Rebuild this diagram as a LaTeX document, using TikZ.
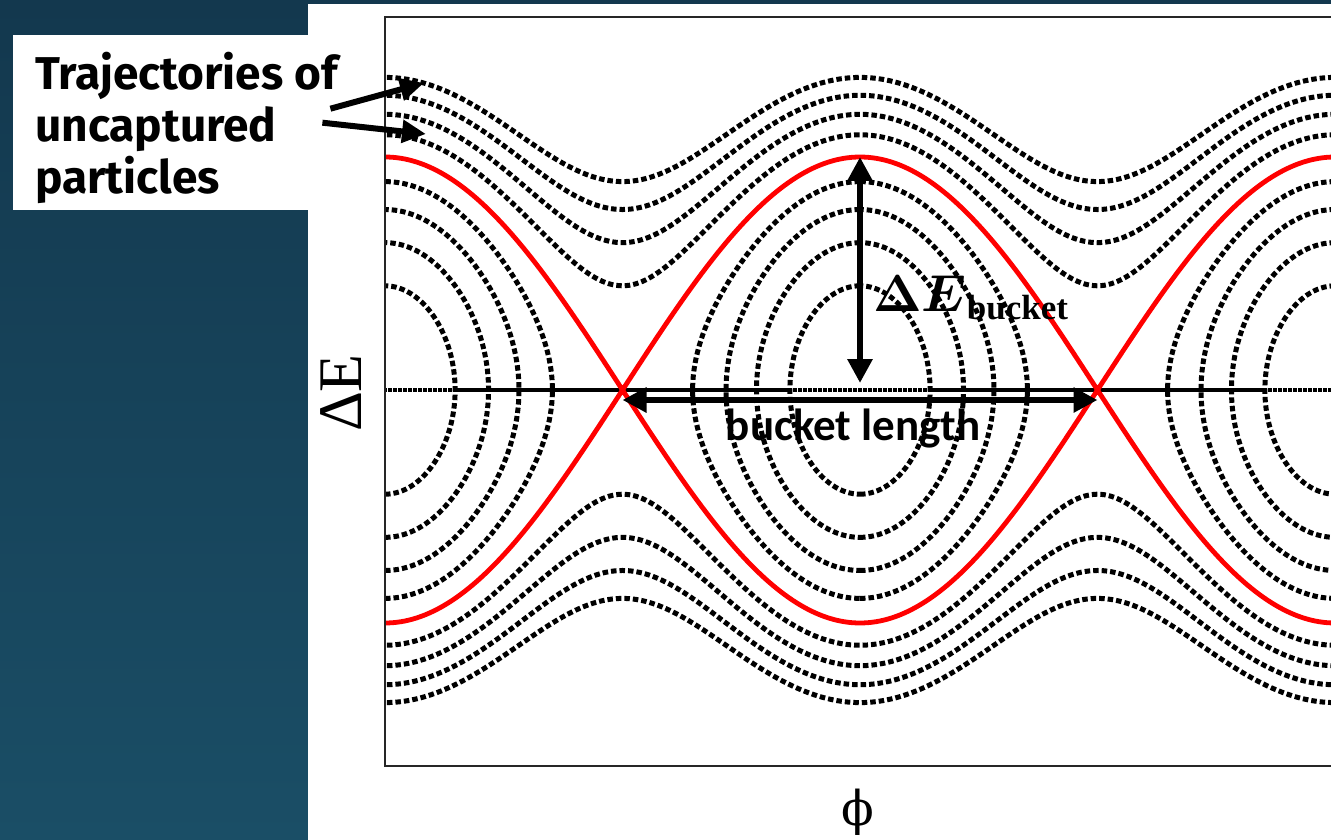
\documentclass[tikz,border=0pt]{standalone}
\usepackage{fix-cm}
\usepackage{amsmath}
\usepackage{fontspec}
\usepackage{tikz}
\usetikzlibrary{arrows.meta,positioning}
\newfontfamily\calloutfont{Fira Sans}
\newfontfamily\lenfont{Carlito}
\newfontfamily\axisfont{Liberation Serif}
\newfontfamily\phifont{DejaVu Serif}
\definecolor{slidetop}{RGB}{19,56,78}
\definecolor{slidebot}{RGB}{26,78,102}

\begin{document}
\begin{tikzpicture}[
  x=1pt, y=-1pt,
  traj/.style={line width=5pt, dash pattern=on 5.5pt off 3pt},
  sepx/.style={red, line width=4.8pt},
  axisline/.style={line width=4.2pt},
  axisdash/.style={line width=3.4pt, dash pattern=on 3.5pt off 1.5pt},
  frame/.style={draw=black!85, line width=1.5pt},
  dblarr/.style={{Triangle[length=24pt,width=24pt]}-{Triangle[length=24pt,width=24pt]}, line width=6.5pt},
  ptr/.style={-{Triangle[length=24pt,width=22pt]}, line width=6pt},
  calloutbox/.style={fill=white, anchor=north west, inner sep=0pt,
                     minimum width=295pt, minimum height=175pt},
  callouttxt/.style={anchor=north west, align=left, inner sep=0pt,
                     font=\fontsize{46}{52}\selectfont\calloutfont\bfseries},
  bucketlbl/.style={inner sep=0pt, font=\fontsize{52}{56}\selectfont},
  lenlbl/.style={inner sep=0pt, font=\fontsize{45}{48}\selectfont\lenfont\bfseries},
  axislbl/.style={inner sep=0pt, font=\fontsize{62}{64}\selectfont\axisfont},
  philbl/.style={inner sep=0pt, font=\fontsize{48}{50}\selectfont\phifont},
]
\useasboundingbox (0,0) rectangle (1331,840);
% slide background
\shade[top color=slidetop, bottom color=slidebot] (0,0) rectangle (308,840);
\fill[slidetop] (308,0) rectangle (1331,4);
\fill[white] (308,4) rectangle (1331,840);

\coordinate (frameNW) at (385,17);
\coordinate (frameSE) at (1335,766);
\coordinate (ctr) at (860,390);

% phase space: phi in degrees, energy in units of the bucket half height/2
\begin{scope}[shift={(ctr)}, x=1.3194pt, y=116.5pt]
  \clip (frameNW) rectangle (frameSE);
  \draw[axisdash] (-365,0) -- (365,0);
  \draw[axisline] (-306.87,0) -- (-53.13,0) (53.13,0) -- (306.87,0);
  % uncaptured
  \foreach \en in {2.4,2.8,3.2,3.6}{
    \draw[traj] plot[domain=-365:365, samples=147, smooth] (\x, {sqrt(2*(\en-1+cos(\x)))});
    \draw[traj] plot[domain=-365:365, samples=147, smooth] (\x, {-sqrt(2*(\en-1+cos(\x)))});
  }
  % captured
  \foreach \cx in {-360,0,360}
    \foreach \en in {0.4,0.8,1.2,1.6}{
      \draw[traj] plot[domain=-90:90, samples=61, smooth]
        ({\cx+acos(1-\en*cos(\x)*cos(\x))}, {sqrt(2*\en)*sin(\x)});
      \draw[traj] plot[domain=90:270, samples=61, smooth]
        ({\cx-acos(1-\en*cos(\x)*cos(\x))}, {sqrt(2*\en)*sin(\x)});
    }
  % separatrix
  \draw[sepx] plot[domain=-360:360, samples=241] (\x, {2*abs(cos(\x/2))});
  \draw[sepx] plot[domain=-360:360, samples=241] (\x, {-2*abs(cos(\x/2))});
  \coordinate (sepTop) at (0,2);
  \coordinate (xptL) at (-180,0);
  \coordinate (xptR) at (180,0);
\end{scope}
\draw[frame] (frameNW) rectangle (frameSE);

\draw[dblarr] (sepTop) -- ([yshift=7pt]ctr);
\draw[dblarr] ([yshift=-10pt]xptL) -- ([yshift=-10pt]xptR);
\node[bucketlbl, anchor=base west] (dEb) at (873,311)
  {$\boldsymbol{\Delta E}$\raisebox{-8pt}{\fontsize{35}{37}\selectfont\axisfont\bfseries bucket}};
\node[lenlbl, anchor=base] (blen) at (853,440) {bucket length};

\node[axislbl, rotate=90] (dEaxis) at (341,393) {ΔE};
\node[philbl] (phiaxis) at (858,812) {ϕ};

% callout
\node[calloutbox] (lbl) at (13,35) {};
\node[callouttxt] (lbltxt) at ([xshift=22pt,yshift=-17pt]lbl.north west) {Trajectories of\\uncaptured\\particles};
\coordinate (tipA) at (424,83);
\coordinate (tipB) at (426,134);
\draw[ptr] ([xshift=22pt,yshift=14pt]lbl.east) -- (tipA);
\draw[ptr] ([xshift=14pt]lbl.east) -- (tipB);
\end{tikzpicture}
\end{document}
